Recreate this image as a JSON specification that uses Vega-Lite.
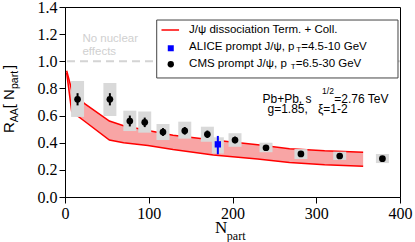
{
  "$schema": "https://vega.github.io/schema/vega-lite/v6.json",
  "autosize": {"type": "none"},
  "padding": {"left": 65, "top": 7, "right": 15, "bottom": 45},
  "width": 335,
  "height": 190,
  "data": {"values": [{}]},
  "config": {
    "view": {"stroke": "black", "strokeWidth": 1},
    "axis": {"grid": false, "ticks": true, "tickSize": 6, "tickColor": "black", "tickWidth": 1, "domainColor": "black", "labelColor": "black", "labelFont": "Liberation Serif", "labelFontSize": 16, "labelPadding": 2, "labelOverlap": false, "labelFlush": false}
  },
  "datasets": {
    "band": [
      {"N": 2, "lo": 0.915, "hi": 0.93},
      {"N": 8, "lo": 0.63, "hi": 0.79},
      {"N": 23, "lo": 0.56, "hi": 0.69},
      {"N": 53, "lo": 0.42, "hi": 0.56},
      {"N": 70, "lo": 0.40, "hi": 0.525},
      {"N": 99, "lo": 0.38, "hi": 0.49},
      {"N": 129, "lo": 0.35, "hi": 0.455},
      {"N": 177, "lo": 0.31, "hi": 0.42},
      {"N": 230, "lo": 0.28, "hi": 0.385},
      {"N": 268, "lo": 0.255, "hi": 0.355},
      {"N": 310, "lo": 0.238, "hi": 0.34},
      {"N": 356, "lo": 0.226, "hi": 0.33}
    ],
    "cms": [
      {"N": 15, "R": 0.72, "elo": 0.675, "ehi": 0.765, "blo": 0.59, "bhi": 0.855},
      {"N": 53.6, "R": 0.72, "elo": 0.675, "ehi": 0.765, "blo": 0.597, "bhi": 0.84},
      {"N": 77.4, "R": 0.56, "elo": 0.52, "ehi": 0.60, "blo": 0.486, "bhi": 0.636},
      {"N": 95.2, "R": 0.55, "elo": 0.515, "ehi": 0.585, "blo": 0.474, "bhi": 0.63},
      {"N": 117, "R": 0.479, "elo": 0.45, "ehi": 0.508, "blo": 0.42, "bhi": 0.538},
      {"N": 143, "R": 0.488, "elo": 0.46, "ehi": 0.516, "blo": 0.43, "bhi": 0.555},
      {"N": 170, "R": 0.462, "elo": 0.435, "ehi": 0.49, "blo": 0.407, "bhi": 0.518},
      {"N": 203, "R": 0.42, "elo": 0.395, "ehi": 0.445, "blo": 0.37, "bhi": 0.47},
      {"N": 240, "R": 0.363, "elo": 0.343, "ehi": 0.383, "blo": 0.33, "bhi": 0.40},
      {"N": 281.7, "R": 0.317, "elo": 0.30, "ehi": 0.335, "blo": 0.28, "bhi": 0.353},
      {"N": 328, "R": 0.302, "elo": 0.285, "ehi": 0.32, "blo": 0.273, "bhi": 0.334},
      {"N": 379, "R": 0.282, "elo": 0.265, "ehi": 0.30, "blo": 0.25, "bhi": 0.317}
    ],
    "alice": [
      {"N": 182.5, "R": 0.388, "elo": 0.315, "ehi": 0.45, "blo": 0.32, "bhi": 0.44}
    ]
  },
  "layer": [
    {
      "data": {"name": "band"},
      "mark": {"type": "area", "color": "#f8a5a5", "opacity": 1},
      "encoding": {
        "x": {"field": "N", "type": "quantitative", "scale": {"domain": [0, 400], "nice": false, "padding": 0}, "axis": {"title": null, "tickCount": 4, "labelOverlap": false}},
        "y": {"field": "lo", "type": "quantitative", "scale": {"domain": [0, 1.4], "nice": false, "padding": 0}, "axis": {"title": null, "tickCount": 7, "format": ".1f", "labelOverlap": false}},
        "y2": {"field": "hi"}
      }
    },
    {
      "mark": {"type": "rule", "color": "#d4d4d4", "strokeWidth": 2, "strokeDash": [8, 5]},
      "encoding": {"y": {"datum": 1.0, "type": "quantitative"}}
    },
    {
      "data": {"name": "band"},
      "mark": {"type": "line", "color": "#ff0000", "strokeWidth": 1.5},
      "encoding": {"x": {"field": "N", "type": "quantitative"}, "y": {"field": "hi", "type": "quantitative"}}
    },
    {
      "data": {"name": "band"},
      "mark": {"type": "line", "color": "#ff0000", "strokeWidth": 1.5},
      "encoding": {"x": {"field": "N", "type": "quantitative"}, "y": {"field": "lo", "type": "quantitative"}}
    },
    {
      "data": {"name": "cms"},
      "mark": {"type": "bar", "width": 13, "color": "#d9d9d9"},
      "encoding": {"x": {"field": "N", "type": "quantitative"}, "y": {"field": "blo", "type": "quantitative"}, "y2": {"field": "bhi"}}
    },
    {
      "data": {"name": "alice"},
      "mark": {"type": "bar", "width": 12, "color": "#d9d9d9"},
      "encoding": {"x": {"field": "N", "type": "quantitative"}, "y": {"field": "blo", "type": "quantitative"}, "y2": {"field": "bhi"}}
    },
    {
      "data": {"name": "cms"},
      "mark": {"type": "rule", "color": "black", "strokeWidth": 2},
      "encoding": {"x": {"field": "N", "type": "quantitative"}, "y": {"field": "elo", "type": "quantitative"}, "y2": {"field": "ehi"}}
    },
    {
      "data": {"name": "cms"},
      "mark": {"type": "point", "shape": "circle", "filled": true, "color": "black", "size": 45, "opacity": 1},
      "encoding": {"x": {"field": "N", "type": "quantitative"}, "y": {"field": "R", "type": "quantitative"}}
    },
    {
      "data": {"name": "alice"},
      "mark": {"type": "rule", "color": "#0000ff", "strokeWidth": 2},
      "encoding": {"x": {"field": "N", "type": "quantitative"}, "y": {"field": "elo", "type": "quantitative"}, "y2": {"field": "ehi"}}
    },
    {
      "data": {"name": "alice"},
      "mark": {"type": "point", "shape": "square", "filled": true, "color": "#0000ff", "size": 40, "opacity": 1},
      "encoding": {"x": {"field": "N", "type": "quantitative"}, "y": {"field": "R", "type": "quantitative"}}
    },
    {
      "mark": {"type": "text", "text": "No nuclear", "align": "left", "baseline": "middle", "font": "Liberation Sans", "fontSize": 11.5, "color": "#d0d0d0"},
      "encoding": {"x": {"datum": 20.8, "type": "quantitative"}, "y": {"datum": 1.162, "type": "quantitative"}}
    },
    {
      "mark": {"type": "text", "text": "effects", "align": "left", "baseline": "middle", "font": "Liberation Sans", "fontSize": 11.5, "color": "#d0d0d0"},
      "encoding": {"x": {"datum": 20.8, "type": "quantitative"}, "y": {"datum": 1.071, "type": "quantitative"}}
    },
    {
      "mark": {"type": "rect", "fill": "white", "stroke": "#444444", "strokeWidth": 1},
      "encoding": {"x": {"datum": 109.5, "type": "quantitative"}, "x2": {"datum": 397.6}, "y": {"datum": 1.304, "type": "quantitative"}, "y2": {"datum": 0.877}}
    },
    {
      "mark": {"type": "rule", "color": "#ff0000", "strokeWidth": 1.5},
      "encoding": {"x": {"datum": 115.2, "type": "quantitative"}, "x2": {"datum": 136.2}, "y": {"datum": 1.2305, "type": "quantitative"}}
    },
    {
      "mark": {"type": "point", "shape": "square", "filled": true, "color": "#0000ff", "size": 36, "opacity": 1},
      "encoding": {"x": {"datum": 126.3, "type": "quantitative"}, "y": {"datum": 1.096, "type": "quantitative"}}
    },
    {
      "mark": {"type": "point", "shape": "circle", "filled": true, "color": "black", "size": 40, "opacity": 1},
      "encoding": {"x": {"datum": 126.3, "type": "quantitative"}, "y": {"datum": 0.978, "type": "quantitative"}}
    },
    {
      "mark": {"type": "text", "text": "J/ψ dissociation Term. + Coll.", "align": "left", "baseline": "middle", "font": "Liberation Sans", "fontSize": 11.5, "color": "black"},
      "encoding": {"x": {"datum": 148.2, "type": "quantitative"}, "y": {"datum": 1.2305, "type": "quantitative"}}
    },
    {
      "mark": {"type": "text", "text": "ALICE prompt J/ψ, p", "align": "left", "baseline": "middle", "font": "Liberation Sans", "fontSize": 11.5, "color": "black"},
      "encoding": {"x": {"datum": 148.2, "type": "quantitative"}, "y": {"datum": 1.1075, "type": "quantitative"}}
    },
    {
      "mark": {"type": "text", "text": "T", "align": "left", "baseline": "middle", "font": "Liberation Sans", "fontSize": 8, "color": "black"},
      "encoding": {"x": {"datum": 276, "type": "quantitative"}, "y": {"datum": 1.081, "type": "quantitative"}}
    },
    {
      "mark": {"type": "text", "text": "=4.5-10 GeV", "align": "left", "baseline": "middle", "font": "Liberation Sans", "fontSize": 11.5, "color": "black"},
      "encoding": {"x": {"datum": 282, "type": "quantitative"}, "y": {"datum": 1.1075, "type": "quantitative"}}
    },
    {
      "mark": {"type": "text", "text": "CMS prompt J/ψ, p", "align": "left", "baseline": "middle", "font": "Liberation Sans", "fontSize": 11.5, "color": "black"},
      "encoding": {"x": {"datum": 148.2, "type": "quantitative"}, "y": {"datum": 0.982, "type": "quantitative"}}
    },
    {
      "mark": {"type": "text", "text": "T", "align": "left", "baseline": "middle", "font": "Liberation Sans", "fontSize": 8, "color": "black"},
      "encoding": {"x": {"datum": 269.5, "type": "quantitative"}, "y": {"datum": 0.956, "type": "quantitative"}}
    },
    {
      "mark": {"type": "text", "text": "=6.5-30 GeV", "align": "left", "baseline": "middle", "font": "Liberation Sans", "fontSize": 11.5, "color": "black"},
      "encoding": {"x": {"datum": 275.5, "type": "quantitative"}, "y": {"datum": 0.982, "type": "quantitative"}}
    },
    {
      "mark": {"type": "text", "text": "Pb+Pb, s", "align": "left", "baseline": "middle", "font": "Liberation Sans", "fontSize": 12, "color": "black"},
      "encoding": {"x": {"datum": 235.8, "type": "quantitative"}, "y": {"datum": 0.72, "type": "quantitative"}}
    },
    {
      "mark": {"type": "text", "text": "1/2", "align": "left", "baseline": "middle", "font": "Liberation Sans", "fontSize": 8.5, "color": "black"},
      "encoding": {"x": {"datum": 307, "type": "quantitative"}, "y": {"datum": 0.778, "type": "quantitative"}}
    },
    {
      "mark": {"type": "text", "text": "=2.76 TeV", "align": "left", "baseline": "middle", "font": "Liberation Sans", "fontSize": 12, "color": "black"},
      "encoding": {"x": {"datum": 321.5, "type": "quantitative"}, "y": {"datum": 0.72, "type": "quantitative"}}
    },
    {
      "mark": {"type": "text", "text": "g=1.85,\u00a0\u00a0\u00a0ξ=1-2", "align": "left", "baseline": "middle", "font": "Liberation Sans", "fontSize": 12, "color": "black"},
      "encoding": {"x": {"datum": 241.8, "type": "quantitative"}, "y": {"datum": 0.646, "type": "quantitative"}}
    },
    {
      "mark": {"type": "text", "text": "N", "align": "left", "baseline": "alphabetic", "font": "Liberation Serif", "fontSize": 17, "color": "black"},
      "encoding": {"x": {"datum": 179, "type": "quantitative"}, "y": {"datum": -0.265, "type": "quantitative"}}
    },
    {
      "mark": {"type": "text", "text": "part", "align": "left", "baseline": "alphabetic", "font": "Liberation Serif", "fontSize": 12, "color": "black"},
      "encoding": {"x": {"datum": 193.2, "type": "quantitative"}, "y": {"datum": -0.317, "type": "quantitative"}}
    },
    {
      "mark": {"type": "text", "text": "R", "angle": 270, "align": "left", "baseline": "alphabetic", "font": "Liberation Sans", "fontSize": 15, "color": "black"},
      "encoding": {"x": {"datum": -61.3, "type": "quantitative"}, "y": {"datum": 0.4715, "type": "quantitative"}}
    },
    {
      "mark": {"type": "text", "text": "AA", "angle": 270, "align": "left", "baseline": "alphabetic", "font": "Liberation Sans", "fontSize": 10.5, "color": "black"},
      "encoding": {"x": {"datum": -56.5, "type": "quantitative"}, "y": {"datum": 0.551, "type": "quantitative"}}
    },
    {
      "mark": {"type": "text", "text": "[ N", "angle": 270, "align": "left", "baseline": "alphabetic", "font": "Liberation Sans", "fontSize": 15, "color": "black"},
      "encoding": {"x": {"datum": -61.3, "type": "quantitative"}, "y": {"datum": 0.654, "type": "quantitative"}}
    },
    {
      "mark": {"type": "text", "text": "part", "angle": 270, "align": "left", "baseline": "alphabetic", "font": "Liberation Sans", "fontSize": 10.5, "color": "black"},
      "encoding": {"x": {"datum": -56.5, "type": "quantitative"}, "y": {"datum": 0.796, "type": "quantitative"}}
    },
    {
      "mark": {"type": "text", "text": " ]", "angle": 270, "align": "left", "baseline": "alphabetic", "font": "Liberation Sans", "fontSize": 15, "color": "black"},
      "encoding": {"x": {"datum": -61.3, "type": "quantitative"}, "y": {"datum": 0.943, "type": "quantitative"}}
    }
  ]
}
